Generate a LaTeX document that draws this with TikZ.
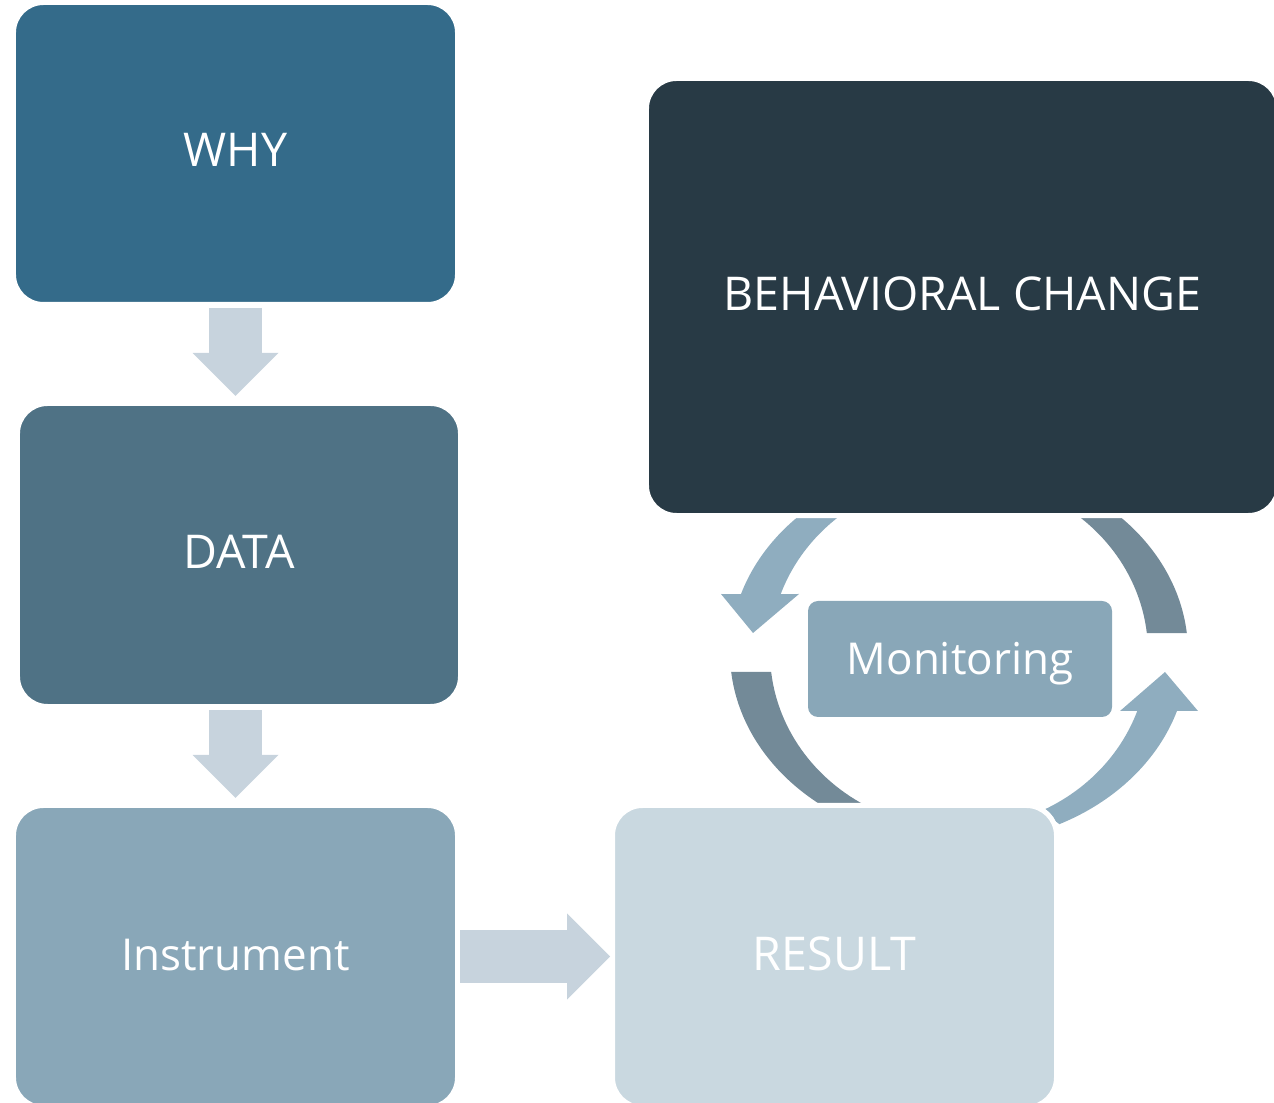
\documentclass[tikz,border=0pt]{standalone}
\usepackage{fontspec}
\setmainfont{Open Sans}
\usetikzlibrary{arrows.meta, calc}
\definecolor{whyblue}{HTML}{346B8A}
\definecolor{datablue}{HTML}{4F7285}
\definecolor{instblue}{HTML}{89A7B8}
\definecolor{resultblue}{HTML}{C9D8E0}
\definecolor{changeblue}{HTML}{283A45}
\definecolor{flowgrey}{HTML}{C7D3DD}
\definecolor{cyclelight}{HTML}{8FADBF}
\definecolor{cycledark}{HTML}{738A98}
\tikzset{%
	stage/.style = {rectangle, rounded corners = 6mm, fill = #1, draw = white, line width = 1mm, outer sep = 0pt,
		text = white, font = \fontsize{26.5}{30}\selectfont, text height = 5.4mm, text depth = 0pt},
	lower/.style = {font = \fontsize{25}{30}\selectfont},
	small/.style = {rectangle, rounded corners = 2mm, fill = #1, outer sep = 0pt,
		text = white, font = \fontsize{25}{30}\selectfont, text height = 6.3mm, text depth = 0pt},
	flow/.style = {draw = flowgrey, line width = 10.6mm, -{Triangle[length = 8.6mm, width = 17.2mm, line width = 0pt]}},
	outer/.style = {x radius = 229, y radius = 191},
	inner/.style = {x radius = 189, y radius = 176}
}

\begin{document}
\begin{tikzpicture}[x = 0.2mm, y = 0.2mm]
	\clip (0,0) rectangle (1274,1102);
	\coordinate (cyc) at (959,449.5);
	% cycle around monitoring
	\fill [cyclelight] ($(cyc)+(116:229 and 191)$) arc [start angle = 116, end angle = 162.2, outer]
		-- ($(cyc)+(-238,58.5)$) -- ($(cyc)+(-206,19.5)$) -- ($(cyc)+(-160,58.5)$)
		-- ($(cyc)+(160.6:189 and 176)$) arc [start angle = 160.6, end angle = 116, inner] -- cycle;
	\fill [cyclelight] ($(cyc)+(296:229 and 191)$) arc [start angle = 296, end angle = 342.2, outer]
		-- ($(cyc)+(239,-58.5)$) -- ($(cyc)+(206,-19.5)$) -- ($(cyc)+(161,-58.5)$)
		-- ($(cyc)+(340.6:189 and 176)$) arc [start angle = 340.6, end angle = 296, inner] -- cycle;
	\fill [cycledark] ($(cyc)+(64:229 and 191)$) arc [start angle = 64, end angle = 5.86, outer]
		-- ($(cyc)+(6.36:189 and 176)$) arc [start angle = 6.36, end angle = 64, inner] -- cycle;
	\fill [cycledark] ($(cyc)+(244:229 and 191)$) arc [start angle = 244, end angle = 185.86, outer]
		-- ($(cyc)+(186.36:189 and 176)$) arc [start angle = 186.36, end angle = 244, inner] -- cycle;

	\node [stage = whyblue, minimum width = 88.8mm, minimum height = 60.4mm] (why) at (235.5,948.5) {WHY};
	\node [stage = datablue, minimum width = 88.6mm, minimum height = 60.6mm] (data) at (239,547) {DATA};
	\node [stage = instblue, lower, minimum width = 88.8mm, minimum height = 60.4mm] (instrument) at (235.5,145.5) {Instrument};
	\node [stage = resultblue, minimum width = 88.8mm, minimum height = 60.4mm] (result) at (834.5,145.5) {RESULT};
	\node [stage = changeblue, minimum width = 126.4mm, minimum height = 87.4mm] (change) at (962.5,805) {BEHAVIORAL CHANGE};
	\node [small = instblue, minimum width = 60.8mm, minimum height = 23.2mm] (monitor) at (960,443) {Monitoring};

	\draw [flow, shorten < = 0.7mm, shorten > = 1.5mm] (why.south) -- (why.south |- data.north);
	\draw [flow, shorten < = 0.7mm, shorten > = 1.5mm] (why.south |- data.south) -- (why.south |- instrument.north);
	\draw [flow, shorten < = 0.5mm, shorten > = 0.5mm] (instrument.east) -- (result.west);
\end{tikzpicture}
\end{document}
